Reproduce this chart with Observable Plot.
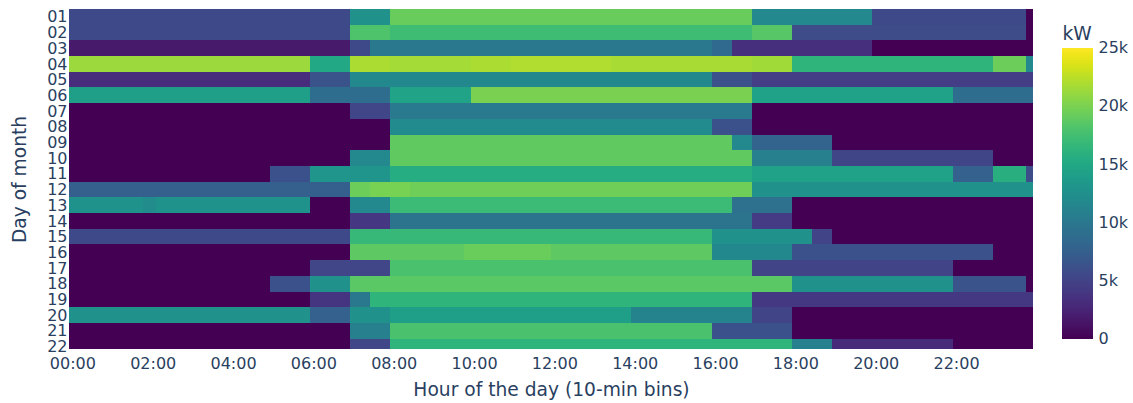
<!DOCTYPE html>
<html><head><meta charset="utf-8">
<script src="https://cdn.jsdelivr.net/npm/d3@7"></script>
<script src="https://cdn.jsdelivr.net/npm/@observablehq/plot@0.6"></script>
<style>
body{margin:0;background:#fff;}
#wrap{position:relative;width:1133px;height:403px;overflow:hidden;}
#cb{position:absolute;left:1062px;top:0;}
#main{position:absolute;left:0;top:0;}
</style></head><body><div id="wrap"><div id="main"></div><div id="cb"></div></div>
<script>
// Day labels (rows) and hour tick labels (every 12 ten-minute bins)
const days = ["01","02","03","04","05","06","07","08","09","10","11","12","13","14","15","16","17","18","19","20","21","22"];
const tickLabels = ["00:00","02:00","04:00","06:00","08:00","10:00","12:00","14:00","16:00","18:00","20:00","22:00"];
const tickBinStarts = [0,12,24,36,48,60,72,84,96,108,120,132];
const colorTicks = [0,5000,10000,15000,20000,25000];
const colorTickLabels = ["0","5k","10k","15k","20k","25k"];
const xTitle = "Hour of the day (10-min bins)";
const yTitle = "Day of month";

// Power in kW per day: [start bin (10-min), kW]; each run lasts until the next start (or bin 144)
const d01 = [[0,5500],[42,12500],[48,19200],[102,11800],[120,5500],[143,0]];
const d02 = [[0,5500],[42,18000],[48,17200],[102,18400],[108,5700],[143,0]];
const d03 = [[0,1700],[42,5500],[45,10000],[96,8500],[99,3500],[120,0]];
const d04 = [[0,21200],[36,15000],[42,21800],[48,21600],[60,21800],[66,22000],[81,21700],[102,21400],[108,16300],[138,19400],[143,11800]];
const d05 = [[0,3200],[36,6400],[42,11700],[96,6200],[102,4500]];
const d06 = [[0,14000],[36,8800],[48,14500],[60,20000],[102,14400],[132,8800]];
const d07 = [[0,0],[42,5200],[48,10200],[102,0]];
const d08 = [[0,0],[48,12000],[96,6200],[102,0]];
const d09 = [[0,0],[48,18900],[99,11800],[102,8000],[114,0]];
const d10 = [[0,0],[42,11800],[48,18900],[102,10800],[114,5100],[138,0]];
const d11 = [[0,0],[30,6200],[36,13000],[48,15500],[102,14400],[132,7700],[138,15800],[143,5800]];
const d12 = [[0,7500],[42,19400],[45,19900],[51,19500],[102,12500]];
const d13 = [[0,12600],[11,12100],[13,12600],[36,0],[42,11800],[48,17000],[99,9200],[108,0]];
const d14 = [[0,0],[42,4000],[48,9500],[102,4300],[108,0]];
const d15 = [[0,5500],[42,16700],[96,12500],[111,5000],[114,0]];
const d16 = [[0,0],[42,18800],[59,19300],[72,18800],[96,11700],[108,6200],[138,0]];
const d17 = [[0,0],[36,5200],[48,17800],[102,5000],[132,0]];
const d18 = [[0,0],[30,6200],[36,12500],[42,18600],[108,12500],[132,6400],[143,0]];
const d19 = [[0,0],[36,3900],[42,10000],[45,16300],[102,4100]];
const d20 = [[0,12500],[36,7700],[42,12500],[48,14000],[84,11200],[102,5000],[108,0]];
const d21 = [[0,0],[42,10800],[48,17800],[96,6200],[108,0]];
const d22 = [[0,0],[42,5200],[48,16300],[108,10800],[114,3000],[132,0]];
const dayRuns = [d01,d02,d03,d04,d05,d06,d07,d08,d09,d10,d11,d12,d13,d14,d15,d16,d17,d18,d19,d20,d21,d22];

const rows = [];
dayRuns.forEach((runs, i) => runs.forEach(([s, v], j) => rows.push({
  day: i + 1, start: s, end: j + 1 < runs.length ? runs[j + 1][0] : 144, kW: v
})));

const font = "'DejaVu Sans', Verdana, sans-serif";
const ink = "#2a3f5f";
const colorScale = {type: "linear", scheme: "viridis", domain: [0, 25000]};
const tickMap = new Map(tickBinStarts.map((b, i) => [b + 0.5, tickLabels[i]]));

const main = Plot.plot({
  width: 1133, height: 403,
  marginLeft: 69, marginRight: 100, marginTop: 9, marginBottom: 54,
  style: {fontFamily: font, fontSize: "16px", color: ink, background: "#fff", overflow: "visible"},
  x: {domain: [0, 144]},
  y: {domain: [0.5, 22.16], reverse: true},
  color: colorScale,
  marks: [
    Plot.rect(rows, {x1: "start", x2: "end", y1: d => d.day - 0.5, y2: d => d.day + 0.5, fill: "kW", shapeRendering: "crispEdges", clip: true}),
    Plot.axisX([...tickMap.keys()], {tickFormat: d => tickMap.get(d), tickSize: 0, tickPadding: 8, fontSize: 16,
      label: xTitle, labelArrow: "none", labelAnchor: "center", labelOffset: 46}),
    Plot.axisY(days.map((_, i) => i + 1), {tickFormat: d => days[d - 1], tickSize: 0, tickPadding: 2, fontSize: 16,
      label: yTitle, labelArrow: "none", labelAnchor: "center", labelOffset: 57})
  ]
});
d3.select(main).selectAll('g[aria-label="x-axis label"]').attr("font-size", "18.67px")
  .selectAll("text").attr("font-size", "18.67px").text(xTitle);
d3.select(main).selectAll('g[aria-label="y-axis label"]').attr("font-size", "18.67px")
  .selectAll("text").attr("font-size", "18.67px").text(yTitle);
document.getElementById("main").appendChild(main);

const ramp = d3.range(0, 25000, 100);
const cb = Plot.plot({
  width: 71, height: 403,
  marginLeft: 0, marginRight: 40, marginTop: 47.5, marginBottom: 64.5,
  style: {fontFamily: font, fontSize: "16px", color: ink, background: "transparent", overflow: "visible"},
  x: {domain: [0, 1], axis: null},
  y: {domain: [0, 25000]},
  color: colorScale,
  marks: [
    Plot.rect(ramp, {x1: () => 0, x2: () => 1, y1: d => d, y2: d => d + 100, fill: d => d + 50, shapeRendering: "crispEdges"}),
    Plot.axisY(colorTicks, {anchor: "right", tickSize: 0, tickPadding: 5, fontSize: 16,
      tickFormat: d => colorTickLabels[colorTicks.indexOf(d)], label: null}),
    Plot.text(["kW"], {frameAnchor: "top-left", textAnchor: "start", lineAnchor: "bottom", dy: -8, fontSize: 18.67, fill: ink})
  ]
});
document.getElementById("cb").appendChild(cb);
</script></body></html>
